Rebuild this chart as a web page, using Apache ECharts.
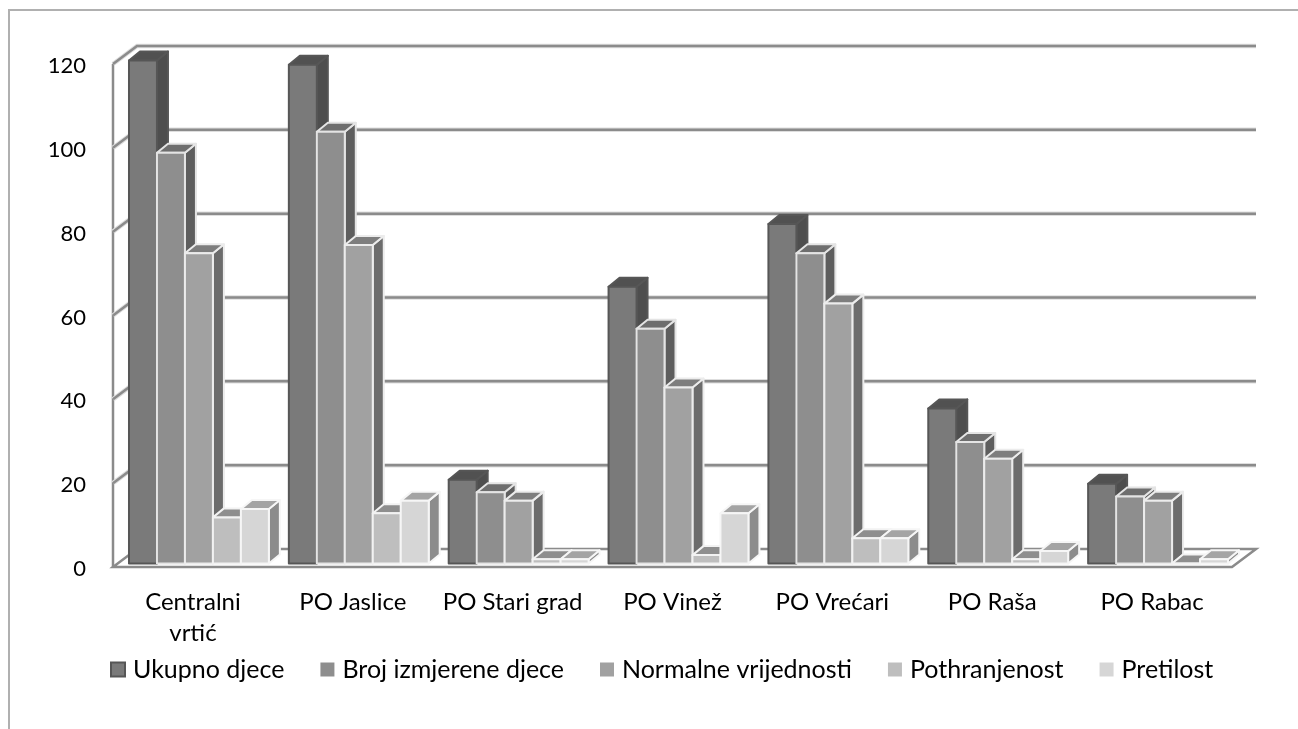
<!DOCTYPE html>
<html>
<head>
<meta charset="utf-8">
<title>Djeca po objektima</title>
<script src="https://cdn.jsdelivr.net/npm/echarts@6/dist/echarts.min.js"></script>
<style>
    html, body { margin: 0; padding: 0; background: #fff; }
    #chart { position: absolute; left: 0; top: 0; width: 1298px; height: 729px; }
    #frame { position: absolute; left: 8px; top: 9px; right: 0; bottom: 0; border-left: 2px solid #b0b0b0; border-top: 2px solid #b0b0b0; }
</style>
</head>
<body>
<div id="frame"></div>
<div id="chart"></div>
<script>
const categories = ['Centralni\nvrtić', 'PO Jaslice', 'PO Stari grad', 'PO Vinež', 'PO Vrećari', 'PO Raša', 'PO Rabac'];
const seriesNames = ['Ukupno djece', 'Broj izmjerene djece', 'Normalne vrijednosti', 'Pothranjenost', 'Pretilost'];
const ukupnoDjece = [120, 119, 20, 66, 81, 37, 19];
const brojIzmjerene = [98, 103, 17, 56, 74, 29, 16];
const normalneVrijednosti = [74, 76, 15, 42, 62, 25, 15];
const pothranjenost = [11, 12, 1, 2, 6, 1, 0];
const pretilost = [13, 15, 1, 12, 6, 3, 1];
const yTicks = [0, 20, 40, 60, 80, 100, 120];

const allValues = [ukupnoDjece, brojIzmjerene, normalneVrijednosti, pothranjenost, pretilost];

// front, side, top, outline of every bar
const faces = [
    ['#7a7a7a', '#4e4e4e', '#515151', '#565656'],
    ['#8e8e8e', '#5e5e5e', '#6e6e6e', '#e4e4e4'],
    ['#a1a1a1', '#6c6c6c', '#7e7e7e', '#ececec'],
    ['#bebebe', '#7c7c7c', '#8e8e8e', '#f2f2f2'],
    ['#d6d6d6', '#8c8c8c', '#a4a4a4', '#f6f6f6']
];

const WALL_DX = 24, WALL_DY = 18;   // depth of the floor
const BAR_DX = 11, BAR_DY = 9;      // depth of a bar
const BAR_SHIFT_X = 6, BAR_SHIFT_Y = 3.5; // bars stand in the middle of the floor

function renderWall(params, api) {
    const box = params.coordSys;
    const y = api.coord([0, api.value(0)])[1];
    const x0 = box.x, x1 = box.x + box.width;
    const lineStyle = { stroke: '#8b8b8b', lineWidth: 2.5, fill: null };
    const halo = { stroke: '#dedede', lineWidth: 4.5, fill: null };
    const children = [];
    if (api.value(0) === 0) {
        const floor = [[x0, y], [x0 + WALL_DX, y - WALL_DY], [x1 + WALL_DX, y - WALL_DY], [x1, y]];
        children.push({ type: 'polygon', shape: { points: floor }, style: { fill: '#fff', stroke: '#8b8b8b', lineWidth: 2.5 } });
        children.push({ type: 'line', shape: { x1: x0, y1: y, x2: x0, y2: box.y }, style: lineStyle });
    } else {
        const pts = [[x0, y], [x0 + WALL_DX, y - WALL_DY], [x1 + WALL_DX, y - WALL_DY]];
        children.push({ type: 'polyline', shape: { points: pts }, style: halo });
        children.push({ type: 'polyline', shape: { points: pts }, style: lineStyle });
    }
    return { type: 'group', children: children };
}

function makeBarRenderer(idx) {
    return function (params, api) {
        const band = api.size([1, 0])[0];
        const w = band * 0.175;
        const top = api.coord([api.value(0), api.value(1)]);
        const base = api.coord([api.value(0), 0]);
        const x = top[0] + (idx - 2.5) * w + BAR_SHIFT_X;
        const yTop = top[1] - BAR_SHIFT_Y;
        const yBase = base[1] - BAR_SHIFT_Y;
        const c = faces[idx];
        const outline = { stroke: c[3], lineWidth: 2, lineJoin: 'round' };
        return {
            type: 'group',
            children: [
                {
                    type: 'polygon',
                    shape: { points: [[x + w, yTop], [x + w + BAR_DX, yTop - BAR_DY], [x + w + BAR_DX, yBase - BAR_DY], [x + w, yBase]] },
                    style: Object.assign({ fill: c[1] }, outline)
                },
                {
                    type: 'polygon',
                    shape: { points: [[x, yTop], [x + BAR_DX, yTop - BAR_DY], [x + w + BAR_DX, yTop - BAR_DY], [x + w, yTop]] },
                    style: Object.assign({ fill: c[2] }, outline)
                },
                {
                    type: 'rect',
                    shape: { x: x, y: yTop, width: w, height: yBase - yTop },
                    style: Object.assign({ fill: c[0] }, outline)
                }
            ]
        };
    };
}

const barSeries = seriesNames.map(function (name, idx) {
    return {
        name: name,
        type: 'custom',
        renderItem: makeBarRenderer(idx),
        encode: { x: 0, y: 1 },
        itemStyle: { color: faces[idx][0], borderColor: idx === 0 ? '#565656' : faces[idx][0], borderWidth: idx === 0 ? 1 : 0 },
        data: allValues[idx].map(function (v, i) { return [i, v]; }),
        z: 3 + idx
    };
});

const chart = echarts.init(document.getElementById('chart'));

chart.setOption({
    animation: false,
    textStyle: { fontFamily: 'Lato, "Open Sans", sans-serif' },
    grid: { left: 113, top: 64, width: 1119, height: 503 },
    legend: {
        data: seriesNames,
        left: 105,
        top: 652,
        icon: 'rect',
        itemWidth: 14,
        itemHeight: 14,
        itemGap: 36,
        textStyle: { fontSize: 25, color: '#000', fontFamily: 'Lato', padding: [0, 0, 0, 3] }
    },
    xAxis: {
        type: 'category',
        data: categories,
        axisLine: { show: false },
        axisTick: { show: false },
        axisLabel: { interval: 0, margin: 20, fontSize: 24, lineHeight: 31, color: '#000', fontFamily: 'Lato' }
    },
    yAxis: {
        type: 'value',
        min: 0,
        max: 120,
        interval: 20,
        axisLine: { show: false },
        axisTick: { show: false },
        splitLine: { show: false },
        axisLabel: {
            margin: 27,
            formatter: function (v) { return '{t|' + v + '}'; },
            rich: { t: { fontSize: 22, color: '#000', fontFamily: 'Lato', padding: [4, 0, 0, 0] } }
        }
    },
    series: [{
        name: 'wall',
        type: 'custom',
        renderItem: renderWall,
        encode: { y: 0 },
        data: yTicks.map(function (t) { return [t]; }),
        z: 1
    }].concat(barSeries)
});

window.addEventListener('resize', function () {
    chart.resize();
});
</script>
</body>
</html>
